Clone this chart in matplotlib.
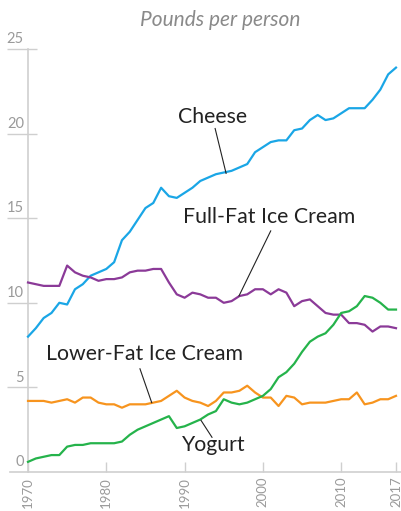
import numpy as np
import matplotlib
matplotlib.use('Agg')
from matplotlib import pyplot as plt

plt.rcParams['font.family'] = ['Lato', 'DejaVu Sans']

years = np.arange(1970, 2018)

cheese = [8.0, 8.5, 9.1, 9.4, 10.0, 9.9, 10.8, 11.1, 11.6, 11.8,
          12.0, 12.4, 13.7, 14.2, 14.9, 15.6, 15.9, 16.8, 16.3, 16.2,
          16.5, 16.8, 17.2, 17.4, 17.6, 17.7, 17.8, 18.0, 18.2, 18.9,
          19.2, 19.5, 19.6, 19.6, 20.2, 20.3, 20.8, 21.1, 20.8, 20.9,
          21.2, 21.5, 21.5, 21.5, 22.0, 22.6, 23.5, 23.9]
full_fat = [11.2, 11.1, 11.0, 11.0, 11.0, 12.2, 11.8, 11.6, 11.5, 11.3,
            11.4, 11.4, 11.5, 11.8, 11.9, 11.9, 12.0, 12.0, 11.2, 10.5,
            10.3, 10.6, 10.5, 10.3, 10.3, 10.0, 10.1, 10.4, 10.5, 10.8,
            10.8, 10.5, 10.8, 10.6, 9.8, 10.1, 10.2, 9.8, 9.4, 9.3,
            9.3, 8.8, 8.8, 8.7, 8.3, 8.6, 8.6, 8.5]
lower_fat = [4.2, 4.2, 4.2, 4.1, 4.2, 4.3, 4.1, 4.4, 4.4, 4.1,
             4.0, 4.0, 3.8, 4.0, 4.0, 4.0, 4.1, 4.2, 4.5, 4.8,
             4.4, 4.2, 4.1, 3.9, 4.2, 4.7, 4.7, 4.8, 5.1, 4.7,
             4.4, 4.4, 3.9, 4.5, 4.4, 4.0, 4.1, 4.1, 4.1, 4.2,
             4.3, 4.3, 4.7, 4.0, 4.1, 4.3, 4.3, 4.5]
yogurt = [0.6, 0.8, 0.9, 1.0, 1.0, 1.5, 1.6, 1.6, 1.7, 1.7,
          1.7, 1.7, 1.8, 2.2, 2.5, 2.7, 2.9, 3.1, 3.3, 2.6,
          2.7, 2.9, 3.1, 3.4, 3.6, 4.3, 4.1, 4.0, 4.1, 4.3,
          4.5, 4.9, 5.6, 5.9, 6.4, 7.1, 7.7, 8.0, 8.2, 8.7,
          9.4, 9.5, 9.8, 10.4, 10.3, 10.0, 9.6, 9.6]

xticks = [1970, 1980, 1990, 2000, 2010, 2017]
yticks = [0, 5, 10, 15, 20, 25]

# name, values, colour, label centre, leader line (from, to)
series = [
    ('Cheese', cheese, '#1aa6e6', (1993.6, 21.0), ((1993.9, 20.3), (1995.3, 17.65))),
    ('Full-Fat Ice Cream', full_fat, '#8b3a98', (2000.8, 15.05), ((2001.0, 14.25), (1996.95, 10.41))),
    ('Lower-Fat Ice Cream', lower_fat, '#f7941e', (1984.9, 6.95), ((1984.3, 6.1), (1985.8, 4.1))),
    ('Yogurt', yogurt, '#25b34b', (1993.7, 1.6), ((1992.1, 3.05), (1993.5, 2.05))),
]

grid_c = '#cfcfcf'
tick_c = '#9a9a9a'
text_c = '#222222'

fig = plt.figure(figsize=(4.01, 5.11), dpi=100)
ax = fig.add_axes([28 / 401, 39 / 511, 368 / 401, 423 / 511])
ax.set_xlim(1970, 2017)
ax.set_ylim(0, 25)

for name, vals, col, lab, lead in series:
    ax.plot(years, vals, color=col, lw=1.6, clip_on=False, zorder=3)
    ax.text(lab[0], lab[1], name, ha='center', va='center',
            fontsize=15.3, color=text_c)
    (x0, y0), (x1, y1) = lead
    ax.plot([x0, x1], [y0, y1], color=text_c, lw=0.8, zorder=4)

for s in ['top', 'right', 'bottom']:
    ax.spines[s].set_visible(False)
ax.spines['left'].set_color(grid_c)
ax.spines['left'].set_linewidth(1.2)

ytr = ax.get_yaxis_transform()
ax.plot([-0.05, 1.02], [0, 0], transform=ytr, color=grid_c, lw=1.2, clip_on=False)
ax.hlines(yticks[1:], -0.057, 0.025, transform=ytr, color=grid_c, lw=1.0, clip_on=False)
for v in yticks:
    ax.annotate(str(v), (-0.011, v), xycoords=ytr, xytext=(0, 2),
                textcoords='offset points', ha='right', va='bottom',
                fontsize=10.5, color=tick_c)

ax.set_yticks([])
ax.set_xticks(xticks)
ax.set_xticklabels([str(y) for y in xticks], rotation=90, va='top')
ax.tick_params(axis='x', direction='in', length=7.5, width=1.0, color=grid_c,
               labelcolor=tick_c, labelsize=9.5, pad=3.5)

fig.text(220 / 401, 1 - 20 / 511, 'Pounds per person', ha='center', va='center',
         style='italic', fontsize=15, color='#8a8a8a')

fig.savefig('out.png', dpi=100)
